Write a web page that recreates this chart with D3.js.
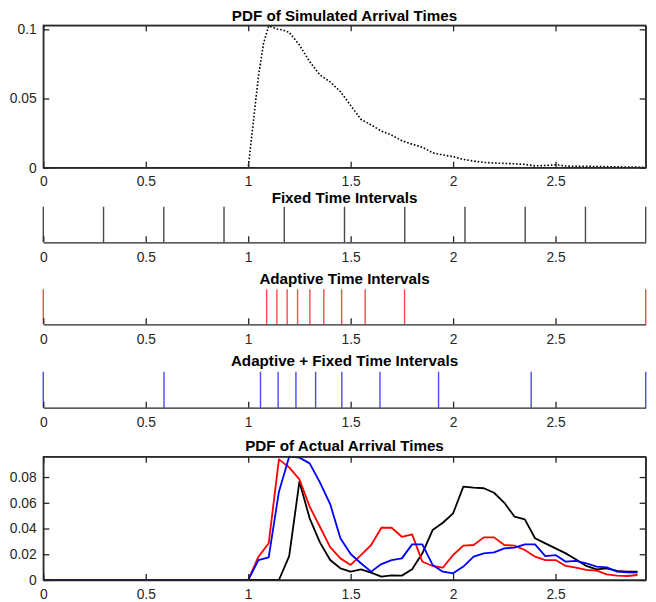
<!DOCTYPE html>
<html>
<head>
<meta charset="utf-8">
<script src="https://cdn.jsdelivr.net/npm/d3@7"></script>
<style>
body { margin: 0; background: #fff; }
text { font-family: "Liberation Sans", Arial, Helvetica, sans-serif; }
</style>
</head>
<body>
<svg id="svg-board" width="656" height="602"></svg>
<script>
// simulated arrival times pdf (top, dotted)
const simTimes = [0, 0.5, 1.0, 1.025, 1.05, 1.075, 1.1, 1.14, 1.17, 1.2, 1.25, 1.3, 1.35, 1.4, 1.45,
    1.5, 1.55, 1.6, 1.65, 1.7, 1.75, 1.8, 1.85, 1.9, 1.95, 2.0, 2.05, 2.1, 2.15, 2.2, 2.25, 2.3,
    2.35, 2.4, 2.45, 2.5, 2.55, 2.6, 2.7, 2.8, 2.9, 2.94];
const simPdf = [0, 0, 0, 0.033, 0.066, 0.09, 0.1025, 0.1002, 0.0995, 0.0978, 0.0887, 0.0766, 0.067, 0.062, 0.055,
    0.045, 0.035, 0.0309, 0.0265, 0.0235, 0.0195, 0.017, 0.0148, 0.0108, 0.0092, 0.008, 0.006, 0.0048, 0.0038, 0.0034, 0.0031, 0.0028,
    0.0024, 0.0013, 0.0016, 0.0021, 0.0012, 0.001, 0.0009, 0.0006, 0.0004, 0.0003];

// interval boundaries
const fixedIntervals = [0, 0.294, 0.588, 0.882, 1.176, 1.47, 1.764, 2.058, 2.352, 2.646, 2.94];
const adaptiveIntervals = [0, 1.09, 1.14, 1.19, 1.241, 1.301, 1.369, 1.456, 1.571, 1.763, 2.94];
const mixedIntervals = [0, 0.589, 1.06, 1.146, 1.233, 1.329, 1.457, 1.643, 1.929, 2.381, 2.94];

// actual arrival times pdf (bottom)
const actualTimes = [0, 0.05, 0.1, 0.15, 0.2, 0.25, 0.3, 0.35, 0.4, 0.45, 0.5, 0.55, 0.6, 0.65, 0.7, 0.75,
    0.8, 0.85, 0.9, 0.95, 1.0, 1.05, 1.1, 1.15, 1.2, 1.25, 1.3, 1.35, 1.4, 1.45, 1.5, 1.55, 1.6, 1.65,
    1.7, 1.75, 1.8, 1.85, 1.9, 1.95, 2.0, 2.05, 2.1, 2.15, 2.2, 2.25, 2.3, 2.35, 2.4, 2.45, 2.5, 2.55,
    2.6, 2.65, 2.7, 2.75, 2.8, 2.85, 2.9];
const actualFixed = [0, 0, 0, 0, 0, 0, 0, 0, 0, 0, 0, 0, 0, 0, 0, 0,
    0, 0, 0, 0, 0, 0, 0, 0, 0.0186, 0.0764, 0.0479, 0.0292, 0.0155, 0.0091, 0.0065, 0.0083, 0.0057, 0.0026,
    0.0036, 0.0034, 0.0083, 0.0207, 0.0388, 0.0445, 0.0518, 0.0725, 0.0718, 0.0713, 0.0678, 0.06, 0.0492, 0.0471, 0.0324, 0.0285, 0.0246, 0.0207,
    0.016, 0.0109, 0.0083, 0.0091, 0.007, 0.0065, 0.0065];
const actualAdaptive = [0, 0, 0, 0, 0, 0, 0, 0, 0, 0, 0, 0, 0, 0, 0, 0,
    0, 0, 0, 0, 0, 0.0181, 0.0285, 0.0937, 0.0875, 0.0782, 0.057, 0.0414, 0.0256, 0.0168, 0.0117, 0.0194, 0.0272, 0.0406,
    0.0406, 0.0336, 0.0354, 0.0142, 0.0109, 0.0096, 0.0194, 0.0267, 0.0272, 0.0331, 0.0331, 0.0272, 0.0267, 0.0233, 0.0181, 0.0155, 0.0155, 0.0109,
    0.0096, 0.0078, 0.0073, 0.0044, 0.0034, 0.0031, 0.0039];
const actualMixed = [0, 0, 0, 0, 0, 0, 0, 0, 0, 0, 0, 0, 0, 0, 0, 0,
    0, 0, 0, 0, 0, 0.0155, 0.0176, 0.0686, 0.0958, 0.0951, 0.0906, 0.0758, 0.059, 0.0324, 0.0202, 0.013, 0.0065, 0.0124,
    0.0155, 0.0168, 0.0277, 0.0277, 0.0117, 0.0065, 0.0052, 0.0104, 0.0181, 0.0207, 0.0215, 0.0246, 0.0251, 0.0277, 0.0277, 0.0186, 0.0194, 0.0142,
    0.0148, 0.013, 0.0104, 0.0098, 0.0065, 0.006, 0.0057];

const xTicks = [0, 0.5, 1, 1.5, 2, 2.5];
const topYTicks = [0, 0.05, 0.1];
const bottomYTicks = [0, 0.02, 0.04, 0.06, 0.08];

const axisColor = "#262626";
const left = 43.3, right = 645.7;
const midX = (left + right) / 2;

let xScale = d3.scaleLinear().domain([0, 2.94]).range([left, right]);
let svgBoard = d3.select("#svg-board");

function styleAxis(g) {
    g.selectAll("path, line").attr("stroke", axisColor).attr("stroke-width", 1.3);
    g.selectAll("text").attr("fill", axisColor).attr("font-size", "13.8px").attr("font-family", null);
}

function addTitle(label, y) {
    svgBoard.append("text")
        .attr("x", midX)
        .attr("y", y)
        .attr("text-anchor", "middle")
        .attr("font-size", "15.2px")
        .attr("font-weight", "bold")
        .attr("fill", "#000")
        .text(label);
}

function boxAxes(yScale, yTicks, top, bottom, pad) {
    svgBoard.append("g").attr("transform", `translate(0,${bottom})`)
        .call(d3.axisBottom(xScale).tickValues(xTicks).tickSizeInner(-6).tickSizeOuter(0)
            .tickPadding(pad).tickFormat(d => String(d)))
        .call(styleAxis);
    svgBoard.append("g").attr("transform", `translate(0,${top})`)
        .call(d3.axisTop(xScale).tickValues(xTicks).tickSizeInner(-6).tickSizeOuter(0).tickFormat(""))
        .call(styleAxis);
    svgBoard.append("g").attr("transform", `translate(${left},0)`)
        .call(d3.axisLeft(yScale).tickValues(yTicks).tickSizeInner(-6).tickSizeOuter(0)
            .tickPadding(6.6).tickFormat(d => String(d)))
        .call(styleAxis);
    svgBoard.append("g").attr("transform", `translate(${right},0)`)
        .call(d3.axisRight(yScale).tickValues(yTicks).tickSizeInner(-6).tickSizeOuter(0).tickFormat(""))
        .call(styleAxis);
    svgBoard.append("rect")
        .attr("x", left).attr("y", top)
        .attr("width", right - left).attr("height", bottom - top)
        .attr("fill", "none").attr("stroke", axisColor).attr("stroke-width", 1.3);
}

function stemPanel(data, color, top, base) {
    let yStem = d3.scaleLinear().domain([0, 1]).range([base, top]);
    svgBoard.append("g").selectAll("line")
        .data(data)
        .enter()
        .append("line")
        .attr("x1", d => xScale(d)).attr("x2", d => xScale(d))
        .attr("y1", yStem(0)).attr("y2", yStem(1))
        .attr("stroke", color)
        .attr("stroke-width", 1.4);
    svgBoard.append("g").attr("transform", `translate(0,${base})`)
        .call(d3.axisBottom(xScale).tickValues(xTicks).tickSizeInner(-6).tickSizeOuter(0)
            .tickPadding(9.5).tickFormat(d => String(d)))
        .call(styleAxis);
}

// top panel
let yTop = d3.scaleLinear().domain([0, 0.1029]).range([167.7, 25.3]);
addTitle("PDF of Simulated Arrival Times", 20.5);
svgBoard.append("path")
    .datum(d3.zip(simTimes, simPdf))
    .attr("fill", "none")
    .attr("stroke", "#000")
    .attr("stroke-width", 1.6)
    .attr("stroke-dasharray", "1.6,1.9")
    .attr("d", d3.line().x(d => xScale(d[0])).y(d => yTop(d[1])));
boxAxes(yTop, topYTicks, 25.3, 167.7, 8.3);

// interval panels
addTitle("Fixed Time Intervals", 203.2);
stemPanel(fixedIntervals, "#4a4a4a", 206.7, 242.3);
addTitle("Adaptive Time Intervals", 284);
stemPanel(adaptiveIntervals, "#ff4848", 289.3, 324.3);
addTitle("Adaptive + Fixed Time Intervals", 366);
stemPanel(mixedIntervals, "#4848ff", 371.7, 407.7);

// bottom panel
let yBottom = d3.scaleLinear().domain([0, 0.0958]).range([580, 456.7]);
addTitle("PDF of Actual Arrival Times", 451);
let series = [
    { values: actualFixed, color: "#000" },
    { values: actualAdaptive, color: "#ff0000" },
    { values: actualMixed, color: "#0000ff" }
];
let lineGen = d3.line().x(d => xScale(d[0])).y(d => yBottom(d[1]));
svgBoard.append("g").selectAll("path")
    .data(series)
    .enter()
    .append("path")
    .attr("fill", "none")
    .attr("stroke", d => d.color)
    .attr("stroke-width", 1.8)
    .attr("stroke-linejoin", "round")
    .attr("d", d => lineGen(d3.zip(actualTimes, d.values)));
boxAxes(yBottom, bottomYTicks, 456.7, 580, 9.5);
</script>
</body>
</html>
